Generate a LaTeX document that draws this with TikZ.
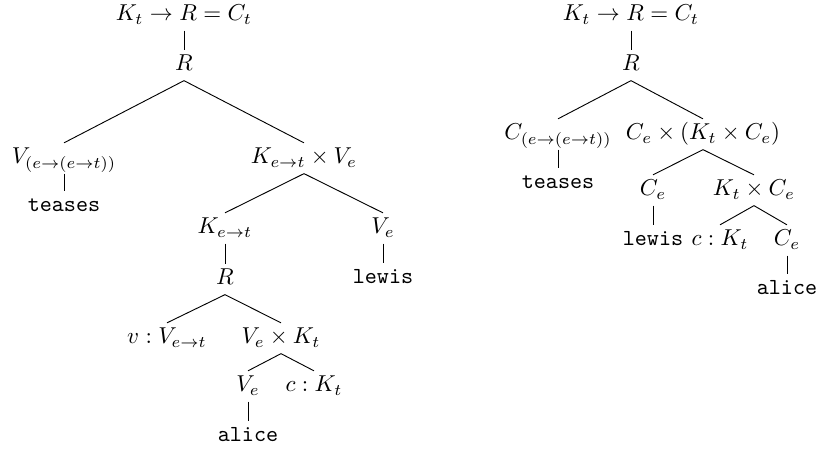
\documentclass[tikz,border=0pt]{standalone}
\begin{document}
\begin{tikzpicture}[x=0.435pt,y=-0.435pt,
  lbl/.style={anchor=base,inner xsep=1pt,inner ysep=2pt,text height=7pt,text depth=2pt},
  branch/.style={line width=0.4pt}
]
  \useasboundingbox (0,0) rectangle (817,452);
  % Left tree
  \node[lbl] (lroot) at (184,21) {$K_t \rightarrow R = C_t$};
  \node[lbl] (lr) at (184,71) {$R$};
  \node[lbl] (lverb) at (64,164) {$V_{(e\rightarrow(e\rightarrow t))}$};
  \node[lbl] (lpair) at (304,164) {$K_{e\rightarrow t} \times V_e$};
  \node[lbl] (lteases) at (64,212) {\texttt{teases}};
  \node[lbl] (lk) at (225,234) {$K_{e\rightarrow t}$};
  \node[lbl] (lve) at (383,234) {$V_e$};
  \node[lbl] (lr2) at (225,285) {$R$};
  \node[lbl] (llewis) at (383,284) {\texttt{lewis}};
  \node[lbl] (lv) at (167,344) {$v : V_{e\rightarrow t}$};
  \node[lbl] (lvk) at (281,344) {$V_e \times K_t$};
  \node[lbl] (lve2) at (248,392) {$V_e$};
  \node[lbl] (lc) at (314,392) {$c : K_t$};
  \node[lbl] (lalice) at (248,442) {\texttt{alice}};
  \draw[branch] (lroot.south) -- (lr.north);
  \draw[branch] (lr.south) -- (lverb.north);
  \draw[branch] (lr.south) -- (lpair.north);
  \draw[branch] (lverb.south) -- (lteases.north);
  \draw[branch] (lpair.south) -- (lk.north);
  \draw[branch] (lpair.south) -- (lve.north);
  \draw[branch] (lk.south) -- (lr2.north);
  \draw[branch] (lve.south) -- (llewis.north);
  \draw[branch] (lr2.south) -- (lv.north);
  \draw[branch] (lr2.south) -- (lvk.north);
  \draw[branch] (lvk.south) -- (lve2.north);
  \draw[branch] (lvk.south) -- (lc.north);
  \draw[branch] (lve2.south) -- (lalice.north);
  % Right tree
  \node[lbl] (rroot) at (631,21) {$K_t \rightarrow R = C_t$};
  \node[lbl] (rr) at (631,71) {$R$};
  \node[lbl] (rverb) at (558,140) {$C_{(e\rightarrow(e\rightarrow t))}$};
  \node[lbl] (rpair) at (703,140) {$C_e \times (K_t \times C_e)$};
  \node[lbl] (rteases) at (558,189) {\texttt{teases}};
  \node[lbl] (rce) at (653,196) {$C_e$};
  \node[lbl] (rkc) at (754,196) {$K_t \times C_e$};
  \node[lbl] (rlewis) at (653,246) {\texttt{lewis}};
  \node[lbl] (rc) at (720,246) {$c : K_t$};
  \node[lbl] (rce2) at (787,246) {$C_e$};
  \node[lbl] (ralice) at (787,295) {\texttt{alice}};
  \draw[branch] (rroot.south) -- (rr.north);
  \draw[branch] (rr.south) -- (rverb.north);
  \draw[branch] (rr.south) -- (rpair.north);
  \draw[branch] (rverb.south) -- (rteases.north);
  \draw[branch] (rpair.south) -- (rce.north);
  \draw[branch] (rpair.south) -- (rkc.north);
  \draw[branch] (rce.south) -- (rlewis.north);
  \draw[branch] (rkc.south) -- (rc.north);
  \draw[branch] (rkc.south) -- (rce2.north);
  \draw[branch] (rce2.south) -- (ralice.north);
\end{tikzpicture}
\end{document}
